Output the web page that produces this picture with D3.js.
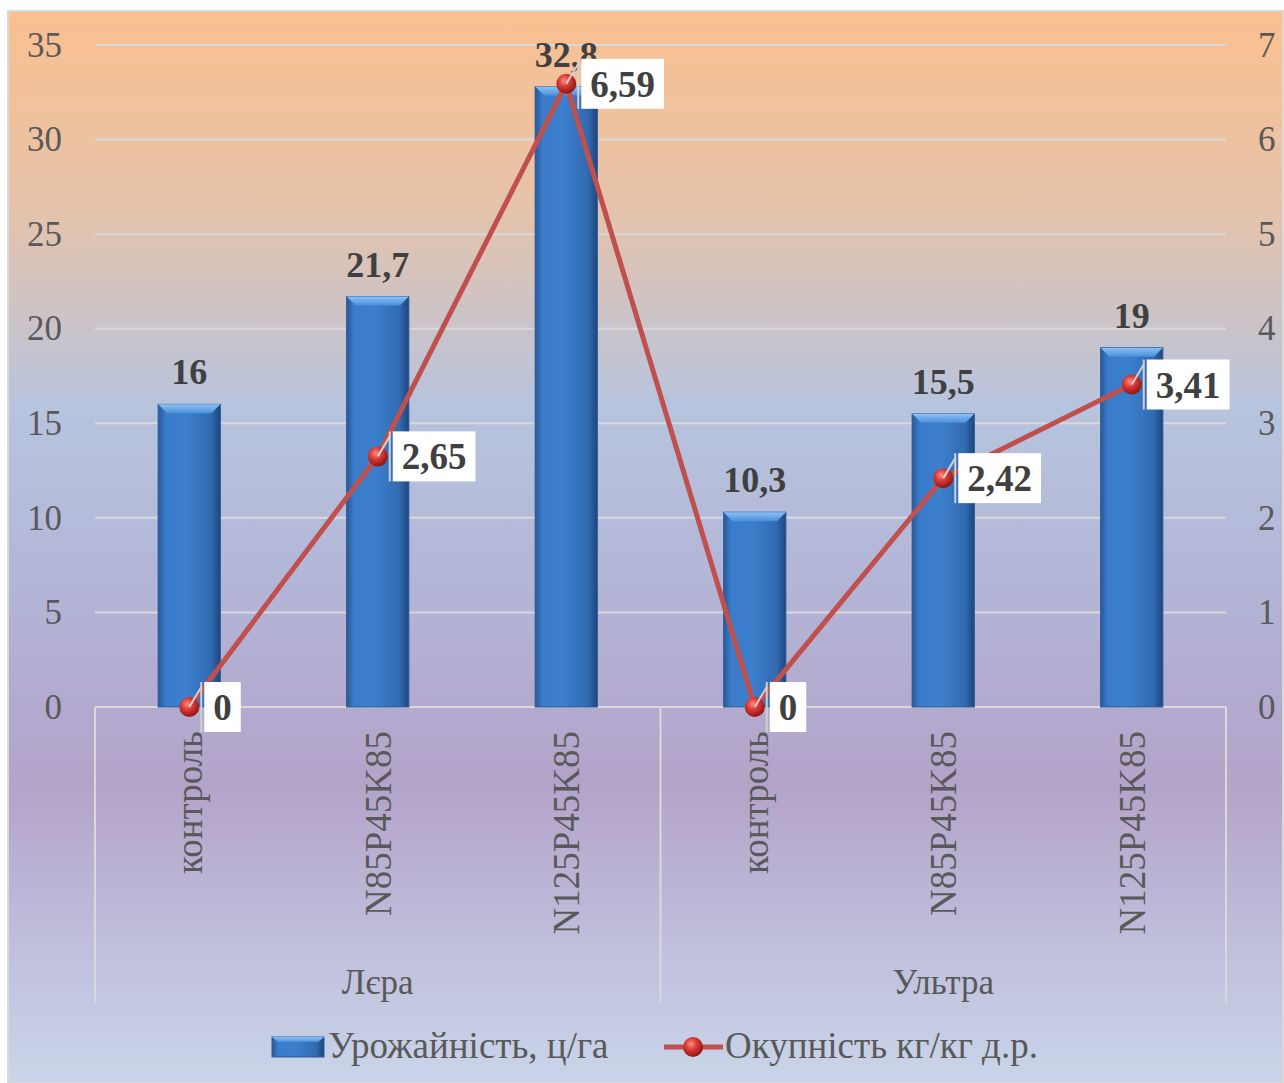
<!DOCTYPE html>
<html lang="uk">
<head>
<meta charset="utf-8" />
<title>Урожайність і окупність</title>
<script src="https://cdn.jsdelivr.net/npm/d3@7/dist/d3.min.js"></script>
<style>
  body { margin: 0; background: #fff; }
  svg text { font-family: "Liberation Serif", "Times New Roman", serif; fill: #595959; }
  .lbl { font-weight: bold; fill: #404040; }
</style>
</head>
<body>
<script>
// data
var groups = ['Лєра', 'Ультра'];
var treatments = ['контроль', 'N85P45K85', 'N125P45K85'];
var yieldVals = [16, 21.7, 32.8, 10.3, 15.5, 19];       // Урожайність, ц/га
var paybackVals = [0, 2.65, 6.59, 0, 2.42, 3.41];      // Окупність кг/кг д.р.
var leftTicks = [0, 5, 10, 15, 20, 25, 30, 35];
var rightTicks = [0, 1, 2, 3, 4, 5, 6, 7];

var W = 1284, H = 1083;
var plotL = 95, plotR = 1226, plotT = 45, plotB = 707;

var cats = [];
groups.forEach(function(g, gi) {
  treatments.forEach(function(t, ti) { cats.push({ g: g, t: t, i: gi * 3 + ti }); });
});

var fmt = function(d) { return String(d).replace('.', ','); };

var svg = d3.select('body').append('svg').attr('width', W).attr('height', H);
var defs = svg.append('defs');

var bg = defs.append('linearGradient').attr('id', 'bg').attr('x1', 0).attr('y1', 0).attr('x2', 0).attr('y2', 1);
[[0, '#fac08f'], [0.18, '#e6c3aa'], [0.37, '#b7c4de'], [0.55, '#b3b4d6'], [0.72, '#b3a3c9'], [0.9, '#c2c4df'], [1, '#c9d5e9']]
  .forEach(function(s) { bg.append('stop').attr('offset', s[0]).attr('stop-color', s[1]); });

var bar = defs.append('linearGradient').attr('id', 'bar').attr('x1', 0).attr('y1', 0).attr('x2', 1).attr('y2', 0);
[[0, '#28599a'], [0.12, '#3a7cc9'], [0.45, '#3c7fcd'], [0.85, '#316ab0'], [1, '#1d457e']]
  .forEach(function(s) { bar.append('stop').attr('offset', s[0]).attr('stop-color', s[1]); });

var bev = defs.append('linearGradient').attr('id', 'bev').attr('x1', 0).attr('y1', 0).attr('x2', 0).attr('y2', 1);
bev.append('stop').attr('offset', 0).attr('stop-color', '#8cc2f5');
bev.append('stop').attr('offset', 1).attr('stop-color', '#4a8fdb');

var ball = defs.append('radialGradient').attr('id', 'ball').attr('cx', 0.4).attr('cy', 0.35).attr('r', 0.65);
ball.append('stop').attr('offset', 0).attr('stop-color', '#ff8a80');
ball.append('stop').attr('offset', 0.45).attr('stop-color', '#d93a36');
ball.append('stop').attr('offset', 1).attr('stop-color', '#8e1512');

svg.append('rect').attr('x', 8).attr('y', 11).attr('width', W - 9).attr('height', H - 11)
  .attr('fill', 'url(#bg)').attr('stroke', '#d9d9d9').attr('stroke-width', 2);

var x = d3.scaleBand().domain(cats.map(function(c) { return c.i; }))
  .range([plotL, plotR]).paddingInner(0.67).paddingOuter(0.335);
var y = d3.scaleLinear().domain([0, 35]).range([plotB, plotT]);
var y2 = d3.scaleLinear().domain([0, 7]).range([plotB, plotT]);
var cx = function(i) { return x(i) + x.bandwidth() / 2; };

// gridlines
svg.append('g').selectAll('line').data(leftTicks).enter().append('line')
  .attr('x1', plotL).attr('x2', plotR)
  .attr('y1', function(d) { return y(d); }).attr('y2', function(d) { return y(d); })
  .attr('stroke', '#d9d9d9').attr('stroke-width', 2);

// axes
var ya = svg.append('g').attr('transform', 'translate(62,0)')
  .call(d3.axisLeft(y).tickValues(leftTicks).tickFormat(d3.format('d')).tickSize(0).tickPadding(0));
ya.select('.domain').remove();
ya.selectAll('text').attr('font-size', 35).attr('fill', '#595959');

var yb = svg.append('g').attr('transform', 'translate(1258,0)')
  .call(d3.axisRight(y2).tickValues(rightTicks).tickFormat(d3.format('d')).tickSize(0).tickPadding(0));
yb.select('.domain').remove();
yb.selectAll('text').attr('font-size', 35).attr('fill', '#595959');

// multi-level category axis lines
var dividers = [plotL, plotL + (plotR - plotL) / 2, plotR];
svg.append('g').selectAll('line').data(dividers).enter().append('line')
  .attr('x1', function(d) { return d; }).attr('x2', function(d) { return d; })
  .attr('y1', plotB).attr('y2', 1003)
  .attr('stroke', '#d9d9d9').attr('stroke-width', 2);

svg.append('g').selectAll('text').data(cats).enter().append('text')
  .attr('transform', function(c) { return 'translate(' + (cx(c.i) + 13) + ',731) rotate(-90)'; })
  .attr('text-anchor', 'end').attr('font-size', 37)
  .text(function(c) { return c.t; });

svg.append('g').selectAll('text').data(groups).enter().append('text')
  .attr('x', function(g, gi) { return (cx(gi * 3) + cx(gi * 3 + 2)) / 2; })
  .attr('y', 994).attr('text-anchor', 'middle').attr('font-size', 35)
  .text(function(g) { return g; });

// bars
var bars = svg.append('g').selectAll('g').data(yieldVals).enter().append('g');
bars.append('rect')
  .attr('x', function(d, i) { return x(i); }).attr('y', function(d) { return y(d); })
  .attr('width', x.bandwidth()).attr('height', function(d) { return plotB - y(d); })
  .attr('fill', 'url(#bar)').attr('stroke', '#2a5a96').attr('stroke-width', 1);
bars.append('path')
  .attr('d', function(d, i) {
    var x0 = x(i), x1 = x0 + x.bandwidth(), t = y(d);
    return 'M' + x0 + ',' + t + 'L' + x1 + ',' + t + 'L' + (x1 - 9) + ',' + (t + 9) + 'L' + (x0 + 9) + ',' + (t + 9) + 'Z';
  })
  .attr('fill', 'url(#bev)');
bars.append('text').attr('class', 'lbl')
  .attr('x', function(d, i) { return cx(i); }).attr('y', function(d) { return y(d) - 20; })
  .attr('text-anchor', 'middle').attr('font-size', 36)
  .text(fmt);

// payback line
var line = d3.line().x(function(d, i) { return cx(i); }).y(function(d) { return y2(d); });
svg.append('path').datum(paybackVals).attr('d', line)
  .attr('fill', 'none').attr('stroke', '#c0504d').attr('stroke-width', 5);

var pts = svg.append('g').selectAll('g').data(paybackVals).enter().append('g')
  .attr('transform', function(d, i) { return 'translate(' + cx(i) + ',' + y2(d) + ')'; });
pts.append('circle').attr('r', 10).attr('fill', 'url(#ball)');
pts.append('line').attr('x1', 0).attr('y1', 0).attr('x2', 12).attr('y2', -20)
  .attr('stroke', '#d0d0d0').attr('stroke-width', 2);
pts.append('line').attr('x1', 12).attr('y1', -25).attr('x2', 12).attr('y2', 25)
  .attr('stroke', '#d0d0d0').attr('stroke-width', 2);
pts.each(function(d) {
  var g = d3.select(this);
  var t = g.append('text').attr('class', 'lbl').attr('font-size', 37)
    .attr('x', 24).attr('y', 13).text(fmt(d));
  var w = t.node().getComputedTextLength();
  g.insert('rect', 'text').attr('x', 15).attr('y', -25).attr('width', w + 18).attr('height', 50)
    .attr('fill', '#fff');
});

// legend
var lg = svg.append('g');
lg.append('rect').attr('x', 272).attr('y', 1037).attr('width', 52).attr('height', 20)
  .attr('fill', 'url(#bar)').attr('stroke', '#2a5a96');
lg.append('path').attr('d', 'M272,1037L324,1037L318,1042L278,1042Z').attr('fill', 'url(#bev)');
lg.append('text').attr('x', 328).attr('y', 1058).attr('font-size', 37).text('Урожайність, ц/га');
lg.append('line').attr('x1', 664).attr('x2', 723).attr('y1', 1047).attr('y2', 1047)
  .attr('stroke', '#c0504d').attr('stroke-width', 5);
lg.append('circle').attr('cx', 693).attr('cy', 1047).attr('r', 10).attr('fill', 'url(#ball)');
lg.append('text').attr('x', 725).attr('y', 1058).attr('font-size', 37).text('Окупність кг/кг д.р.');
</script>
</body>
</html>
